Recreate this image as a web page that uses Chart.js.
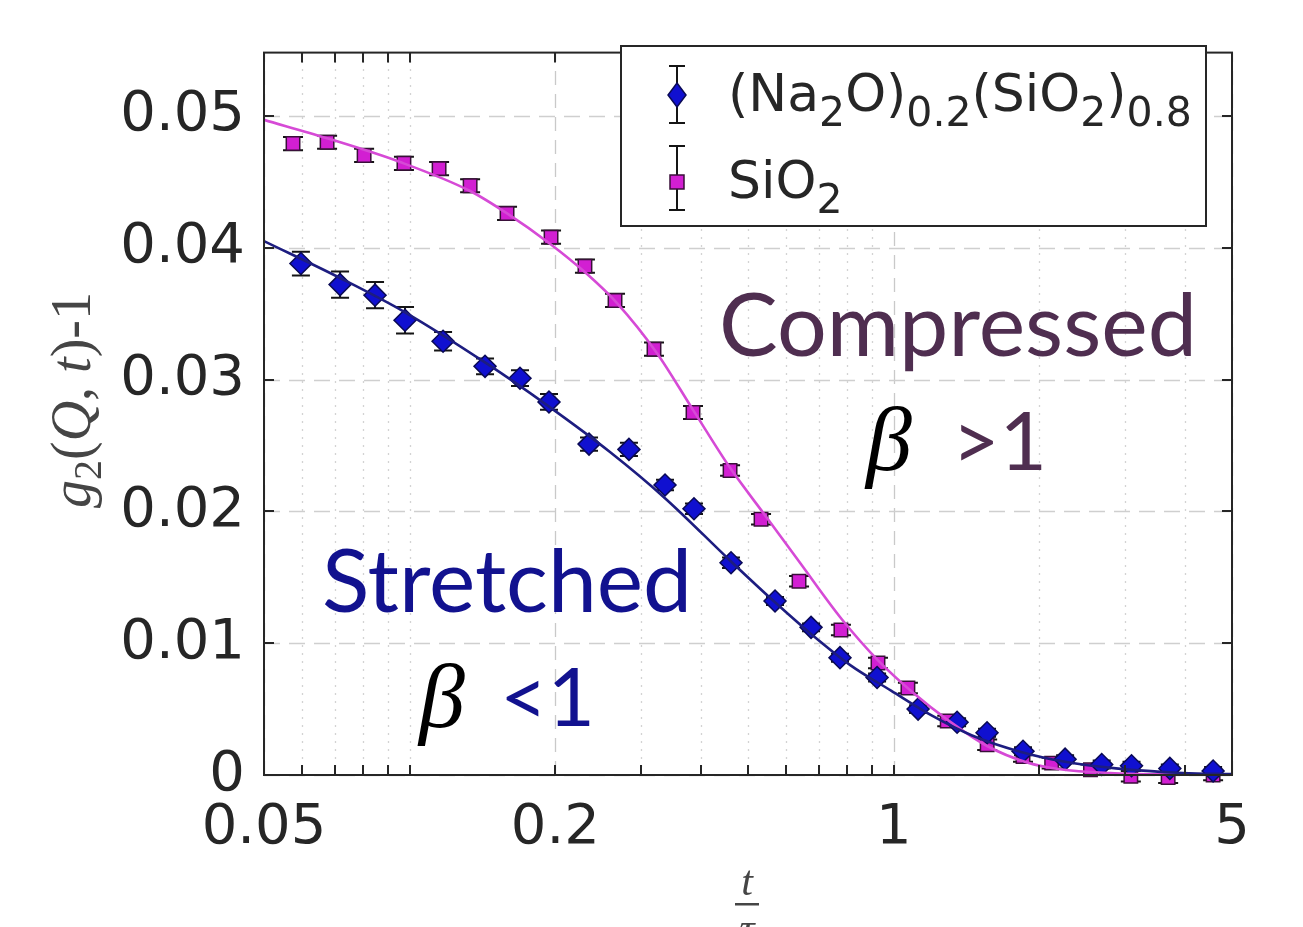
<!DOCTYPE html>
<html>
<head>
<meta charset="utf-8">
<script src="https://cdn.jsdelivr.net/npm/chart.js@4.4.0/dist/chart.umd.min.js"></script>
<style>
  html, body { margin: 0; padding: 0; background: #fff; }
  canvas { display: block; }
</style>
</head>
<body>
<canvas id="chart" width="1303" height="927"></canvas>
<script>
// (Na2O)0.2(SiO2)0.8 measured points
const naTimes = [0.0596, 0.0718, 0.0848, 0.0978, 0.1172, 0.1431, 0.169, 0.194, 0.2347, 0.2838, 0.3369, 0.3867, 0.4612,
  0.5686, 0.6749, 0.7745, 0.924, 1.123, 1.352, 1.559, 1.85, 2.26, 2.69, 3.1, 3.72, 4.57];
const naValues = [0.0388, 0.0372, 0.0364, 0.0345, 0.0329, 0.0310, 0.0301, 0.0283, 0.0251, 0.0247, 0.0220, 0.0202, 0.0161,
  0.0132, 0.0112, 0.0089, 0.0074, 0.0050, 0.0040, 0.0032, 0.0018, 0.0012, 0.0008, 0.0007, 0.0005, 0.0003];
const naErrors = [0.0009, 0.001, 0.001, 0.001, 0.0007, 0.0006, 0.0006, 0.0006, 0.0005, 0.0005, 0.0004, 0.0004, 0.0004,
  0.0003, 0.0003, 0.0003, 0.0003, 0.0003, 0.0003, 0.0003, 0.0003, 0.0003, 0.0003, 0.0003, 0.0003, 0.0003];

// SiO2 measured points
const siTimes = [0.0574, 0.0675, 0.0805, 0.0973, 0.115, 0.1333, 0.1589, 0.1959, 0.2302, 0.2656, 0.3197, 0.3849, 0.4591,
  0.532, 0.6374, 0.778, 0.928, 1.07, 1.29, 1.56, 1.85, 2.12, 2.55, 3.09, 3.69, 4.57];
const siValues = [0.0479, 0.0480, 0.0470, 0.0464, 0.0460, 0.0447, 0.0426, 0.0408, 0.0386, 0.0360, 0.0323, 0.0275, 0.0231,
  0.0194, 0.0147, 0.0110, 0.0085, 0.0066, 0.0041, 0.0023, 0.0014, 0.0009, 0.0004, -0.0001, -0.0002, 0.0000];
const siErrors = [0.0005, 0.0005, 0.0005, 0.0005, 0.0005, 0.0005, 0.0005, 0.0005, 0.0005, 0.0005, 0.0005, 0.0005, 0.0004,
  0.0004, 0.0004, 0.0004, 0.0004, 0.0004, 0.0004, 0.0004, 0.0004, 0.0004, 0.0004, 0.0004, 0.0004, 0.0004];

// fitted curves
const naFitTimes = [0.05, 0.0718, 0.0978, 0.1444, 0.1931, 0.2593, 0.3369, 0.4612, 0.5686, 0.6749, 0.816, 0.9875, 1.2,
  1.452, 1.833, 2.26, 2.878, 3.96, 5];
const naFitValues = [0.0405, 0.0377, 0.0351, 0.0312, 0.0280, 0.0245, 0.0210, 0.0162, 0.0131, 0.0107, 0.0083, 0.0064,
  0.0045, 0.0030, 0.00175, 0.0010, 0.0005, 0.00015, 0.00007];
const siFitTimes = [0.05, 0.0675, 0.0955, 0.1333, 0.1589, 0.1949, 0.2325, 0.2681, 0.3243, 0.3849, 0.4591, 0.5474, 0.6403,
  0.782, 0.928, 1.1, 1.29, 1.56, 1.886, 2.206, 2.8, 3.72, 5];
const siFitValues = [0.0497, 0.0483, 0.0465, 0.0443, 0.0426, 0.0403, 0.0380, 0.0358, 0.0320, 0.0277, 0.0233, 0.0195,
  0.0161, 0.0118, 0.0087, 0.0062, 0.0042, 0.0022, 0.00095, 0.00044, 0.00015, 0.00004, 0];

const xTicks = [0.05, 0.06, 0.07, 0.08, 0.09, 0.1, 0.2, 0.3, 0.4, 0.5, 0.6, 0.7, 0.8, 0.9, 1, 2, 3, 4, 5];
const xLabelled = [0.05, 0.2, 1, 5];
const yTicks = [0, 0.01, 0.02, 0.03, 0.04, 0.05];
const yTickLabels = ['0', '0.01', '0.02', '0.03', '0.04', '0.05'];

const axisColor = '#262626';
const naFill = '#1010d0';
const siFill = '#d21fd2';

const toPoints = (xs, ys) => xs.map((x, i) => ({ x: x, y: ys[i] }));

// dashed / dotted grid and error bars, drawn behind the markers
const gridPlugin = {
  id: 'grid',
  beforeDatasetsDraw(chart) {
    const { ctx, chartArea: a, scales } = chart;
    ctx.save();
    ctx.lineWidth = 1.3;
    xTicks.forEach(v => {
      const px = Math.round(scales.x.getPixelForValue(v)) + 0.5;
      const major = xLabelled.includes(v);
      ctx.strokeStyle = major ? '#c9c9c9' : '#d3d3d3';
      ctx.setLineDash(major ? [14, 9] : [2, 6]);
      ctx.beginPath(); ctx.moveTo(px, a.bottom); ctx.lineTo(px, a.top); ctx.stroke();
    });
    ctx.strokeStyle = '#cfcfcf';
    ctx.setLineDash([16, 9]);
    yTicks.forEach(v => {
      const py = Math.round(scales.y.getPixelForValue(v)) + 0.5;
      ctx.beginPath(); ctx.moveTo(a.left, py); ctx.lineTo(a.right, py); ctx.stroke();
    });
    ctx.restore();

    ctx.save();
    ctx.strokeStyle = '#151515';
    ctx.lineWidth = 2;
    [[naTimes, naValues, naErrors, 9], [siTimes, siValues, siErrors, 10]].forEach(([ts, vs, es, cap]) => {
      ts.forEach((t, i) => {
        const px = scales.x.getPixelForValue(t);
        const top = scales.y.getPixelForValue(vs[i] + es[i]);
        const bot = scales.y.getPixelForValue(vs[i] - es[i]);
        ctx.beginPath();
        ctx.moveTo(px, top); ctx.lineTo(px, bot);
        ctx.moveTo(px - cap, top); ctx.lineTo(px + cap, top);
        ctx.moveTo(px - cap, bot); ctx.lineTo(px + cap, bot);
        ctx.stroke();
      });
    });
    ctx.restore();
  }
};

function drawParts(ctx, parts, x, y, font, subFont, subShift) {
  parts.forEach(([txt, sub]) => {
    ctx.font = sub ? subFont : font;
    ctx.fillText(txt, x, sub ? y + subShift : y);
    x += ctx.measureText(txt).width;
  });
  return x;
}

function stretchText(ctx, text, left, baseline, width, font, color) {
  ctx.font = font;
  const w = ctx.measureText(text).width;
  ctx.save();
  ctx.translate(left, baseline);
  ctx.scale(width / w, 1);
  ctx.fillStyle = color;
  ctx.fillText(text, 0, 0);
  ctx.restore();
}

const framePlugin = {
  id: 'frame',
  afterDatasetsDraw(chart) {
    const { ctx, chartArea: a, scales } = chart;
    ctx.save();
    ctx.strokeStyle = axisColor;
    ctx.lineWidth = 2;
    ctx.strokeRect(a.left, a.top, a.right - a.left, a.bottom - a.top);
    ctx.beginPath();
    xTicks.slice(1, -1).forEach(v => {
      const px = Math.round(scales.x.getPixelForValue(v));
      ctx.moveTo(px, a.bottom); ctx.lineTo(px, a.bottom - 10);
      ctx.moveTo(px, a.top); ctx.lineTo(px, a.top + 10);
    });
    yTicks.slice(1).forEach(v => {
      const py = Math.round(scales.y.getPixelForValue(v));
      ctx.moveTo(a.left, py); ctx.lineTo(a.left + 10, py);
      ctx.moveTo(a.right, py); ctx.lineTo(a.right - 10, py);
    });
    ctx.stroke();
    ctx.restore();
  },
  afterDraw(chart) {
    const { ctx } = chart;
    ctx.save();

    // legend
    ctx.fillStyle = '#fff';
    ctx.fillRect(621, 46, 585, 180);
    ctx.strokeStyle = axisColor;
    ctx.lineWidth = 2;
    ctx.strokeRect(621, 46, 585, 180);
    ctx.strokeStyle = '#151515';
    ctx.beginPath();
    ctx.moveTo(677, 66); ctx.lineTo(677, 123); ctx.moveTo(669, 66); ctx.lineTo(685, 66); ctx.moveTo(669, 123); ctx.lineTo(685, 123);
    ctx.moveTo(677, 146); ctx.lineTo(677, 210); ctx.moveTo(669, 146); ctx.lineTo(685, 146); ctx.moveTo(669, 210); ctx.lineTo(685, 210);
    ctx.stroke();
    ctx.lineWidth = 1.5;
    ctx.fillStyle = naFill; ctx.strokeStyle = '#0a0a55';
    ctx.beginPath(); ctx.moveTo(677, 83); ctx.lineTo(686, 95); ctx.lineTo(677, 107); ctx.lineTo(668, 95); ctx.closePath();
    ctx.fill(); ctx.stroke();
    ctx.fillStyle = siFill; ctx.strokeStyle = '#3a0f3a';
    ctx.fillRect(670, 175, 14, 14); ctx.strokeRect(670, 175, 14, 14);

    ctx.fillStyle = axisColor;
    ctx.textBaseline = 'alphabetic';
    ctx.textAlign = 'left';
    const lf = '52px "DejaVu Sans"', ls = '41px "DejaVu Sans"';
    drawParts(ctx, [['(Na', 0], ['2', 1], ['O)', 0], ['0.2', 1], ['(SiO', 0], ['2', 1], [')', 0], ['0.8', 1]], 728, 111, lf, ls, 15);
    drawParts(ctx, [['SiO', 0], ['2', 1]], 728, 198, lf, ls, 15);

    // annotations
    const purple = '#4f2e50', navy = '#12128f';
    stretchText(ctx, 'Compressed', 719, 356, 478, '87px Lato', purple);
    stretchText(ctx, 'Stretched', 322, 612, 370, '87px Lato', navy);
    ctx.fillStyle = '#000';
    ctx.font = 'italic 92px "Liberation Serif"';
    ctx.fillText('\u03B2', 866, 470);
    ctx.fillText('\u03B2', 419, 727);
    ctx.fillStyle = purple;
    ctx.font = '82px Lato';
    ctx.fillText('>1', 952, 470);
    ctx.fillStyle = navy;
    ctx.fillText('<1', 500, 726);

    // axis titles
    ctx.fillStyle = '#454545';
    ctx.save();
    ctx.translate(90, 400);
    ctx.rotate(-Math.PI / 2);
    const it = 'italic 56px "Liberation Serif"', rm = '56px "Liberation Serif"', sb = '40px "Liberation Serif"';
    const parts = [['g', it], ['2', sb, 11], ['(', rm], ['Q', it], [', ', rm], ['t', it], [')', rm], ['-1', rm]];
    let total = 0;
    parts.forEach(([s, f]) => { ctx.font = f; total += ctx.measureText(s).width; });
    let x = -total / 2;
    parts.forEach(([s, f, dy]) => { ctx.font = f; ctx.fillText(s, x, dy || 0); x += ctx.measureText(s).width; });
    ctx.restore();

    ctx.font = 'italic 42px "Liberation Serif"';
    ctx.textAlign = 'center';
    ctx.fillText('t', 747, 895);
    ctx.fillRect(735, 903, 24, 2.5);
    ctx.fillText('\u03C4', 747, 942);
    ctx.restore();
  }
};

new Chart(document.getElementById('chart'), {
  type: 'scatter',
  data: {
    datasets: [
      {
        data: toPoints(naFitTimes, naFitValues),
        showLine: true, pointRadius: 0, borderColor: '#1d1d80', borderWidth: 2.6,
        cubicInterpolationMode: 'monotone'
      },
      {
        data: toPoints(siFitTimes, siFitValues),
        showLine: true, pointRadius: 0, borderColor: '#d64ad6', borderWidth: 2.6,
        cubicInterpolationMode: 'monotone'
      },
      {
        label: '(Na2O)0.2(SiO2)0.8',
        data: toPoints(naTimes, naValues),
        pointStyle: 'rectRot', pointRadius: 11, backgroundColor: naFill, borderColor: '#0a0a55', borderWidth: 1.5,
        clip: false
      },
      {
        label: 'SiO2',
        data: toPoints(siTimes, siValues),
        pointStyle: 'rect', pointRadius: 9.5, backgroundColor: siFill, borderColor: '#3a0f3a', borderWidth: 1.5,
        clip: false
      }
    ]
  },
  options: {
    responsive: false,
    animation: false,
    events: [],
    layout: { padding: { top: 23, right: 71, bottom: 0, left: 0 } },
    plugins: { legend: { display: false }, tooltip: { enabled: false } },
    scales: {
      x: {
        type: 'logarithmic',
        min: 0.05,
        max: 5,
        afterBuildTicks: s => { s.ticks = xTicks.map(v => ({ value: v })); },
        afterFit: s => { s.height = 152; },
        grid: { display: false, drawTicks: false },
        border: { display: false },
        ticks: {
          autoSkip: false, maxRotation: 0, padding: 20, color: axisColor,
          font: { family: 'DejaVu Sans', size: 56 },
          callback: v => xLabelled.includes(v) ? String(v) : ''
        }
      },
      y: {
        min: 0,
        max: 0.0548,
        afterBuildTicks: s => { s.ticks = yTicks.map(v => ({ value: v })); },
        afterFit: s => { s.width = 264; },
        grid: { display: false, drawTicks: false },
        border: { display: false },
        ticks: {
          padding: 19, color: axisColor,
          font: { family: 'DejaVu Sans', size: 56 },
          callback: (v, i) => yTickLabels[i]
        }
      }
    }
  },
  plugins: [gridPlugin, framePlugin]
});
</script>
</body>
</html>
